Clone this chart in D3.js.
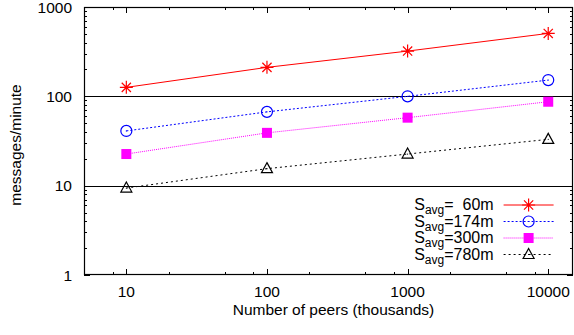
<!DOCTYPE html>
<html>
<head>
<meta charset="utf-8">
<script src="https://cdn.jsdelivr.net/npm/d3@7"></script>
<style>
  body { margin: 0; background: #fff; }
  text { font-family: "Liberation Sans", Arial, sans-serif; }
</style>
</head>
<body>
<div id="chart"></div>
<script>
// data
var peers = [10, 100, 1000, 10000];
var s60 = [126, 211, 321, 506];
var s174 = [41, 67, 100, 152];
var s300 = [22.6, 39, 57.7, 87];
var s780 = [9.4, 15.5, 22.6, 33];
var seriesNames = ["60m", "174m", "300m", "780m"];
var yTicks = [1, 10, 100, 1000];

var W = 574, H = 335;
var margin = { top: 7, right: 1, bottom: 60, left: 84 },
    width = W - margin.left - margin.right,
    height = H - margin.top - margin.bottom;

var svg = d3.select("#chart")
    .append("svg")
    .attr("width", W)
    .attr("height", H)
    .append("g")
    .attr("transform", "translate(" + margin.left + "," + margin.top + ")");

var x = d3.scaleLog().domain([5, 15000]).range([0, width]);
var y = d3.scaleLog().domain([1, 1000]).range([height, 0]);

// minor ticks: x at 2,5,8 per decade, y at 2..9
var xMinor = [], yMinor = [];
[1, 10, 100, 1000, 10000].forEach(function (d) {
    [2, 5, 8].forEach(function (m) {
        var v = d * m;
        if (v > 5 && v < 15000) xMinor.push(v);
    });
});
[1, 10, 100].forEach(function (d) {
    for (var m = 2; m <= 9; m++) yMinor.push(d * m);
});

// horizontal grid at inner majors
svg.append("g").selectAll("line")
    .data([10, 100])
    .enter().append("line")
    .attr("x1", 0).attr("x2", width)
    .attr("y1", d => Math.round(y(d)) + 0.5)
    .attr("y2", d => Math.round(y(d)) + 0.5)
    .attr("stroke", "#000")
    .attr("stroke-width", 1);

var ticks = svg.append("g").attr("stroke", "#000").attr("stroke-width", 1);
function tickX(vals, len) {
    vals.forEach(function (v) {
        var px = Math.round(x(v)) + 0.5;
        ticks.append("line").attr("x1", px).attr("x2", px).attr("y1", height).attr("y2", height - len);
        ticks.append("line").attr("x1", px).attr("x2", px).attr("y1", 0).attr("y2", len);
    });
}
function tickY(vals, len) {
    vals.forEach(function (v) {
        var py = Math.round(y(v)) + 0.5;
        ticks.append("line").attr("y1", py).attr("y2", py).attr("x1", 0).attr("x2", len);
        ticks.append("line").attr("y1", py).attr("y2", py).attr("x1", width).attr("x2", width - len);
    });
}
tickX(peers, 6);
tickX(xMinor, 3);
tickY(yTicks, 6);
tickY(yMinor, 3);

// frame
svg.append("rect")
    .attr("x", 0.5).attr("y", 0.5)
    .attr("width", width - 1).attr("height", height - 1)
    .attr("fill", "none")
    .attr("stroke", "#000")
    .attr("stroke-width", 1.2);

// tick labels
svg.append("g").selectAll("text")
    .data(peers)
    .enter().append("text")
    .attr("x", d => x(d))
    .attr("y", height + 22)
    .attr("text-anchor", "middle")
    .attr("font-size", 15.5)
    .text(d => d);

svg.append("g").selectAll("text")
    .data(yTicks)
    .enter().append("text")
    .attr("x", -12)
    .attr("y", d => y(d) + 5.5)
    .attr("text-anchor", "end")
    .attr("font-size", 15.5)
    .text(d => d);

// axis titles
svg.append("text")
    .attr("x", width / 2 + 5)
    .attr("y", height + 40)
    .attr("text-anchor", "middle")
    .attr("font-size", 15.5)
    .text("Number of peers (thousands)");

svg.append("text")
    .attr("transform", "translate(" + (-63) + "," + (height / 2 + 4) + ") rotate(-90)")
    .attr("text-anchor", "middle")
    .attr("font-size", 15.5)
    .text("messages/minute");

// series
var series = [
    { vals: s60, color: "#ff0000", dash: null, sym: "star" },
    { vals: s174, color: "#0000ff", dash: "2,2", sym: "circle" },
    { vals: s300, color: "#ff00ff", dash: "1,1", sym: "square" },
    { vals: s780, color: "#000000", dash: "2,3", sym: "triangle" }
];

function drawSym(g, sym, color, cx, cy) {
    if (sym === "star") {
        var r = 6.5, q = 4.6;
        g.append("path")
            .attr("d", "M" + (cx - r) + "," + cy + "h" + 2 * r +
                "M" + cx + "," + (cy - r) + "v" + 2 * r +
                "M" + (cx - q) + "," + (cy - q) + "l" + 2 * q + "," + 2 * q +
                "M" + (cx - q) + "," + (cy + q) + "l" + 2 * q + "," + (-2 * q))
            .attr("stroke", color).attr("stroke-width", 1.2).attr("fill", "none");
    } else if (sym === "circle") {
        g.append("circle").attr("cx", cx).attr("cy", cy).attr("r", 5.5)
            .attr("stroke", color).attr("stroke-width", 1.2).attr("fill", "none");
        g.append("circle").attr("cx", cx).attr("cy", cy).attr("r", 0.6).attr("fill", color);
    } else if (sym === "square") {
        g.append("rect").attr("x", cx - 5).attr("y", cy - 5).attr("width", 10).attr("height", 10)
            .attr("fill", color);
    } else {
        g.append("path")
            .attr("d", "M" + cx + "," + (cy - 6) + "L" + (cx + 5.5) + "," + (cy + 4) + "L" + (cx - 5.5) + "," + (cy + 4) + "Z")
            .attr("stroke", color).attr("stroke-width", 1.2).attr("fill", "none");
        g.append("circle").attr("cx", cx).attr("cy", cy).attr("r", 0.6).attr("fill", color);
    }
}

var line = d3.line()
    .x((d, i) => x(peers[i]))
    .y(d => y(d));

series.forEach(function (s) {
    var g = svg.append("g");
    g.append("path")
        .datum(s.vals)
        .attr("fill", "none")
        .attr("stroke", s.color)
        .attr("stroke-width", 1)
        .attr("stroke-dasharray", s.dash)
        .attr("d", line);
    s.vals.forEach(function (v, i) {
        drawSym(g, s.sym, s.color, x(peers[i]), y(v));
    });
});

// legend
var leg = svg.append("g").attr("transform", "translate(" + (x(1000) + 86) + "," + 198 + ")");
series.forEach(function (s, i) {
    var ly = i * 16.5;
    var t = leg.append("text")
        .attr("x", 0).attr("y", ly + 5)
        .attr("text-anchor", "end")
        .attr("font-size", 16);
    t.append("tspan").text("S");
    t.append("tspan").attr("font-size", 12).attr("dy", 4).text("avg");
    t.append("tspan").attr("dy", -4)
        .text("=" + (seriesNames[i] === "60m" ? "\u00a0\u00a060m" : seriesNames[i]));
    leg.append("line")
        .attr("x1", 10).attr("x2", 60)
        .attr("y1", ly).attr("y2", ly)
        .attr("stroke", s.color)
        .attr("stroke-width", 1)
        .attr("stroke-dasharray", s.dash);
    drawSym(leg, s.sym, s.color, 35, ly);
});
</script>
</body>
</html>
